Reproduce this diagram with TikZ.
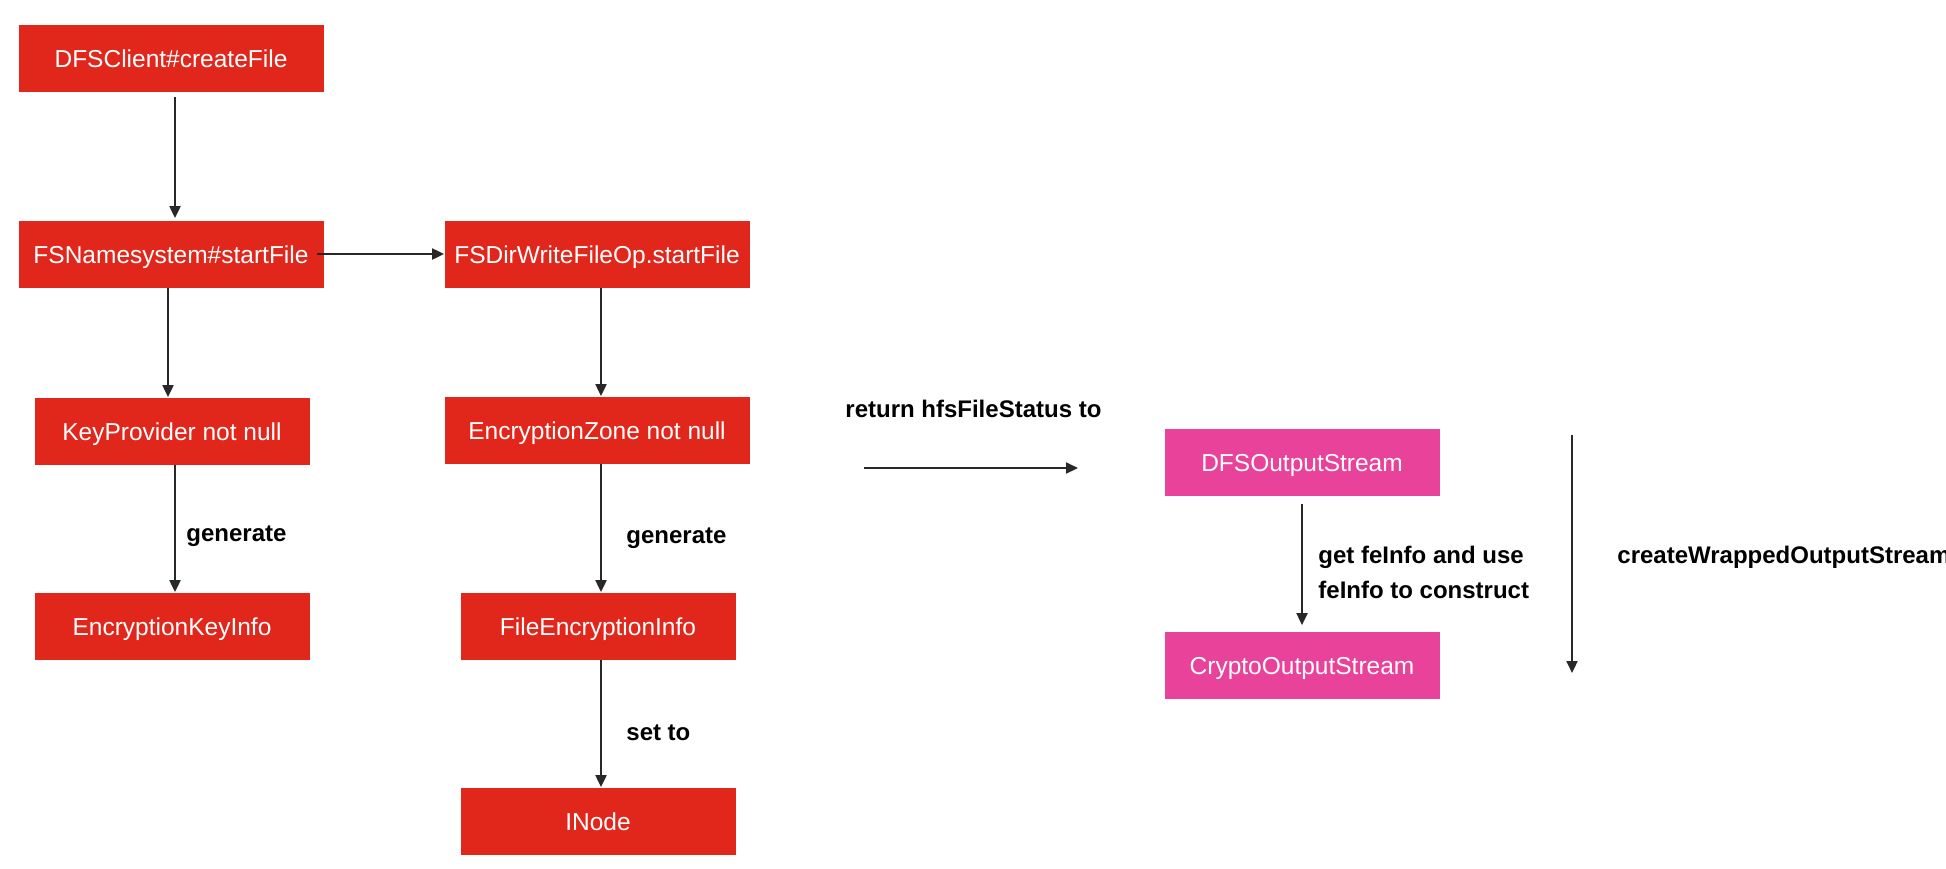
\documentclass[tikz,border=0pt]{standalone}
\usepackage{fontspec}
\setmainfont{Liberation Sans}
\usetikzlibrary{arrows.meta}
\definecolor{boxred}{RGB}{225,38,27}
\definecolor{boxpink}{RGB}{232,66,155}
\definecolor{arrgray}{RGB}{40,40,40}
\begin{document}
\begin{tikzpicture}[x=0.5pt,y=-0.5pt,
  box/.style={inner sep=0pt,text=white,font=\fontsize{12.25}{14}\selectfont,
    text height=0.9em,text depth=0em},
  redbox/.style={box,fill=boxred},
  pinkbox/.style={box,fill=boxpink},
  wide/.style={minimum width=152.5pt,minimum height=33.5pt},
  narrow/.style={minimum width=137.5pt,minimum height=33.5pt},
  lbl/.style={inner sep=0pt,anchor=west,font=\bfseries\fontsize{12}{17.5}\selectfont,
    text height=0.72em,text depth=0.2em},
  lbltwo/.style={inner sep=0pt,anchor=west,font=\bfseries\fontsize{12}{17.5}\selectfont,align=left},
  arr/.style={draw=arrgray,line width=1pt,-{Triangle[length=6pt,width=5.5pt]}}]
\useasboundingbox (0,0) rectangle (1946,868);
% left column
\node[redbox,wide] (dfs) at (171,58) {DFSClient\#createFile};
\node[redbox,wide] (fsn) at (171,254) {FSNamesystem\#startFile};
\node[redbox,narrow] (kp) at (172,431) {KeyProvider not null};
\node[redbox,narrow] (eki) at (172,626) {EncryptionKeyInfo};
% middle column
\node[redbox,wide] (fsd) at (597,254) {FSDirWriteFileOp.startFile};
\node[redbox,wide] (ez) at (597,430) {EncryptionZone not null};
\node[redbox,narrow] (fei) at (598,626) {FileEncryptionInfo};
\node[redbox,narrow] (inode) at (598,821) {INode};
% right part
\node[pinkbox,narrow] (dos) at (1302,462) {DFSOutputStream};
\node[pinkbox,narrow] (cos) at (1302,665) {CryptoOutputStream};
% arrows
\draw[arr] ([xshift=2pt,yshift=-2.5pt]dfs.south) -- ([xshift=2pt,yshift=1pt]fsn.north);
\draw[arr] ([xshift=-2pt]kp.north |- fsn.south) -- ([xshift=-2pt]kp.north);
\draw[arr] ([xshift=-3.5pt]fsn.east) -- (fsd.west);
\draw[arr] ([xshift=2pt]fsd.south) -- ([xshift=2pt]ez.north);
\draw[arr] ([xshift=1.5pt]kp.south) -- ([xshift=1.5pt]eki.north);
\draw[arr] ([xshift=1.5pt]fei.north |- ez.south) -- ([xshift=1.5pt]fei.north);
\draw[arr] ([xshift=1.5pt]fei.south) -- ([xshift=1.5pt]inode.north);
\draw[arr] ([yshift=-4pt]dos.south) -- ([yshift=3pt]cos.north);
\coordinate (r1) at (864,468);
\coordinate (r2) at (1078,468);
\draw[arr] (r1) -- (r2);
\coordinate (w1) at (1572,435);
\coordinate (w2) at (1572,673);
\draw[arr] (w1) -- (w2);
% labels
\node[lbl] (g1) at (186,536) {generate};
\node[lbl] (g2) at (626,538) {generate};
\node[lbl] (st) at (626,735) {set to};
\node[lbl] (ret) at (845,412) {return hfsFileStatus to};
\node[lbltwo] (gf) at (1318,572) {get feInfo and use\\feInfo to construct};
\node[lbl] (cw) at (1617,558) {createWrappedOutputStream};
\end{tikzpicture}
\end{document}
